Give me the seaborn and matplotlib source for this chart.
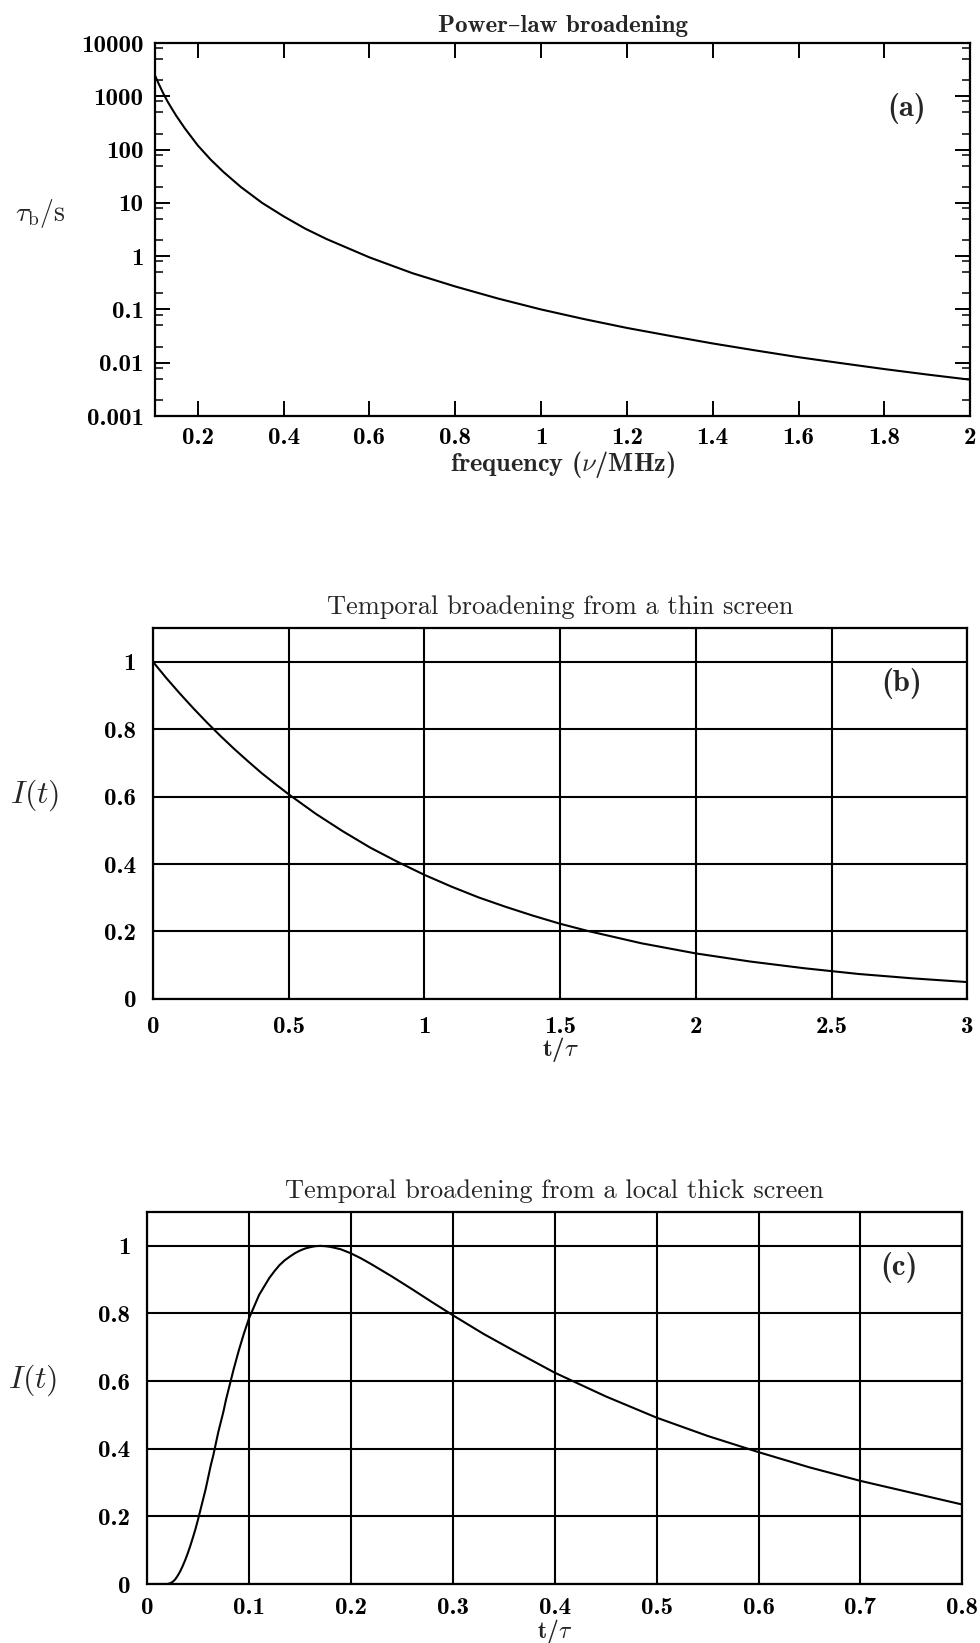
import matplotlib
matplotlib.use("Agg")
import matplotlib.pyplot as plt
import matplotlib.ticker as mticker
import seaborn as sns

sns.set_theme(style="white")
plt.rcParams["font.family"] = ["cmr10", "DejaVu Serif"]
plt.rcParams["mathtext.fontset"] = "cm"
plt.rcParams["axes.unicode_minus"] = False
plt.rcParams["axes.formatter.use_mathtext"] = True

# ---------------- data ----------------
# (a) power-law broadening, tau_b (s) against frequency (MHz)
freq_mhz = [0.10, 0.11, 0.12, 0.13, 0.14, 0.15, 0.17, 0.20, 0.23, 0.26, 0.30,
            0.35, 0.40, 0.45, 0.50, 0.60, 0.70, 0.80, 0.90, 1.00, 1.10, 1.20,
            1.30, 1.40, 1.50, 1.60, 1.70, 1.80, 1.90, 2.00]
tau_b = [2500, 1650, 1120, 790, 580, 430, 250, 120, 65, 38, 20,
         10, 5.6, 3.3, 2.1, 0.95, 0.48, 0.27, 0.16, 0.10, 0.066, 0.045,
         0.032, 0.023, 0.017, 0.0127, 0.0098, 0.0076, 0.0060, 0.0048]

# (b) thin screen
t_thin = [0.0, 0.05, 0.1, 0.15, 0.2, 0.25, 0.3, 0.35, 0.4, 0.45, 0.5, 0.6, 0.7,
          0.8, 0.9, 1.0, 1.1, 1.2, 1.3, 1.4, 1.5, 1.6, 1.8, 2.0, 2.2, 2.4, 2.6,
          2.8, 3.0]
i_thin = [1.0, 0.951, 0.905, 0.861, 0.819, 0.779, 0.741, 0.705, 0.670, 0.638,
          0.607, 0.549, 0.497, 0.449, 0.407, 0.368, 0.333, 0.301, 0.273, 0.247,
          0.223, 0.202, 0.165, 0.135, 0.111, 0.091, 0.074, 0.061, 0.050]

# (c) local thick screen
t_thick = [0.0, 0.02, 0.0225, 0.025, 0.0275, 0.03, 0.0325, 0.035, 0.0375, 0.04,
           0.0425, 0.045, 0.0475, 0.05, 0.0525, 0.055, 0.0575, 0.06, 0.0625,
           0.065, 0.0675, 0.07, 0.0725, 0.075, 0.0775, 0.08, 0.085, 0.09, 0.095,
           0.10, 0.105, 0.11, 0.115, 0.12, 0.125, 0.13, 0.135, 0.14, 0.145,
           0.15, 0.155, 0.16, 0.165, 0.17, 0.175, 0.18, 0.19, 0.20, 0.21, 0.22,
           0.24, 0.26, 0.28, 0.30, 0.33, 0.36, 0.40, 0.45, 0.50, 0.55, 0.60,
           0.65, 0.70, 0.75, 0.80]
i_thick = [0.0, 0.0, 0.002, 0.006, 0.013, 0.024, 0.037, 0.053, 0.071, 0.091,
           0.113, 0.137, 0.162, 0.19, 0.22, 0.25, 0.28, 0.315, 0.35, 0.38,
           0.415, 0.45, 0.48, 0.51, 0.545, 0.575, 0.635, 0.69, 0.74, 0.785,
           0.82, 0.855, 0.88, 0.905, 0.925, 0.943, 0.957, 0.968, 0.978, 0.986,
           0.992, 0.996, 0.999, 1.0, 0.999, 0.997, 0.99, 0.978, 0.963, 0.946,
           0.91, 0.872, 0.833, 0.795, 0.74, 0.69, 0.625, 0.555, 0.492, 0.438,
           0.39, 0.345, 0.305, 0.27, 0.235]

freq_ticks = [0.2, 0.4, 0.6, 0.8, 1.0, 1.2, 1.4, 1.6, 1.8, 2.0]
freq_labels = ["0.2", "0.4", "0.6", "0.8", "1", "1.2", "1.4", "1.6", "1.8", "2"]
tau_ticks = [0.001, 0.01, 0.1, 1, 10, 100, 1000, 10000]
tau_labels = ["0.001", "0.01", "0.1", "1", "10", "100", "1000", "10000"]
i_ticks = [0, 0.2, 0.4, 0.6, 0.8, 1.0]
i_labels = ["0", "0.2", "0.4", "0.6", "0.8", "1"]
thin_ticks = [0, 0.5, 1, 1.5, 2, 2.5, 3]
thin_labels = ["0", "0.5", "1", "1.5", "2", "2.5", "3"]
thick_ticks = [0, 0.1, 0.2, 0.3, 0.4, 0.5, 0.6, 0.7, 0.8]
thick_labels = ["0", "0.1", "0.2", "0.3", "0.4", "0.5", "0.6", "0.7", "0.8"]

TICK_FS = 18
BOLD = ["cmb10", "DejaVu Serif"]

fig = plt.figure(figsize=(9.8, 16.43), dpi=100)
ax_a = fig.add_axes([0.158, 0.7468, 0.832, 0.227])
ax_b = fig.add_axes([0.156, 0.392, 0.831, 0.2258])
ax_c = fig.add_axes([0.150, 0.0359, 0.832, 0.2264])

for ax in (ax_a, ax_b, ax_c):
    for s in ax.spines.values():
        s.set_color("black")
        s.set_linewidth(1.6)

# ---------------- (a) ----------------
sns.lineplot(x=freq_mhz, y=tau_b, ax=ax_a, color="black", lw=1.5, sort=False)
ax_a.set_yscale("log")
ax_a.set_xlim(0.1, 2.0)
ax_a.set_ylim(0.001, 10000)
ax_a.set_xticks(freq_ticks)
ax_a.set_xticklabels(freq_labels, fontsize=TICK_FS, family=BOLD)
ax_a.set_yticks(tau_ticks)
ax_a.set_yticklabels(tau_labels, fontsize=TICK_FS, family=BOLD)
ax_a.yaxis.set_minor_locator(mticker.LogLocator(base=10, subs=[2, 5, 8]))
ax_a.yaxis.set_minor_formatter(mticker.NullFormatter())
ax_a.tick_params(which="major", direction="in", length=11, width=1.4,
                 top=True, right=True, bottom=True, left=True, pad=8, colors="black")
ax_a.tick_params(which="minor", direction="in", length=6, width=1.1,
                 left=True, right=True, colors="black")
ax_a.set_xlabel(r"frequency ($\nu$/MHz)", fontsize=19, family=BOLD, labelpad=0)
ax_a.set_ylabel(r"$\tau_{\rm b}$/s", fontsize=20, rotation=0, labelpad=0)
ax_a.yaxis.set_label_coords(-0.14, 0.5)
ax_a.set_title("Power\u2013law broadening", fontsize=18, family=BOLD, pad=8)
ax_a.text(0.922, 0.825, "(a)", transform=ax_a.transAxes, fontsize=22,
          family=BOLD, ha="center", va="center")

# ---------------- (b) ----------------
sns.lineplot(x=t_thin, y=i_thin, ax=ax_b, color="black", lw=1.5, sort=False)
ax_b.set_xlim(0, 3)
ax_b.set_ylim(0, 1.1)
ax_b.set_xticks(thin_ticks)
ax_b.set_xticklabels(thin_labels, fontsize=TICK_FS, family=BOLD)
ax_b.set_yticks(i_ticks)
ax_b.set_yticklabels(i_labels, fontsize=TICK_FS, family=BOLD)
ax_b.tick_params(length=0, pad=12, colors="black")
ax_b.grid(True, color="black", lw=1.5)
ax_b.set_axisbelow(True)
ax_b.set_xlabel(r"t/$\tau$", fontsize=TICK_FS, family=BOLD, labelpad=-2)
ax_b.set_ylabel(r"$I(t)$", fontsize=23, rotation=0, labelpad=0)
ax_b.yaxis.set_label_coords(-0.145, 0.5)
ax_b.set_title("Temporal broadening from a thin screen", fontsize=19, pad=10)
ax_b.text(0.92, 0.85, "(b)", transform=ax_b.transAxes, fontsize=22,
          family=BOLD, ha="center", va="center")

# ---------------- (c) ----------------
sns.lineplot(x=t_thick, y=i_thick, ax=ax_c, color="black", lw=1.5, sort=False)
ax_c.set_xlim(0, 0.8)
ax_c.set_ylim(0, 1.1)
ax_c.set_xticks(thick_ticks)
ax_c.set_xticklabels(thick_labels, fontsize=TICK_FS, family=BOLD)
ax_c.set_yticks(i_ticks)
ax_c.set_yticklabels(i_labels, fontsize=TICK_FS, family=BOLD)
ax_c.tick_params(axis="y", length=0, pad=12, colors="black")
ax_c.tick_params(axis="x", length=0, pad=9, colors="black")
ax_c.grid(True, color="black", lw=1.5)
ax_c.set_axisbelow(True)
ax_c.set_xlabel(r"t/$\tau$", fontsize=TICK_FS - 1, family=BOLD, labelpad=-1)
ax_c.set_ylabel(r"$I(t)$", fontsize=23, rotation=0, labelpad=0)
ax_c.yaxis.set_label_coords(-0.14, 0.5)
ax_c.set_title("Temporal broadening from a local thick screen", fontsize=19, pad=10)
ax_c.text(0.922, 0.85, "(c)", transform=ax_c.transAxes, fontsize=22,
          family=BOLD, ha="center", va="center")

fig.savefig("out.png", dpi=100, facecolor="white")
